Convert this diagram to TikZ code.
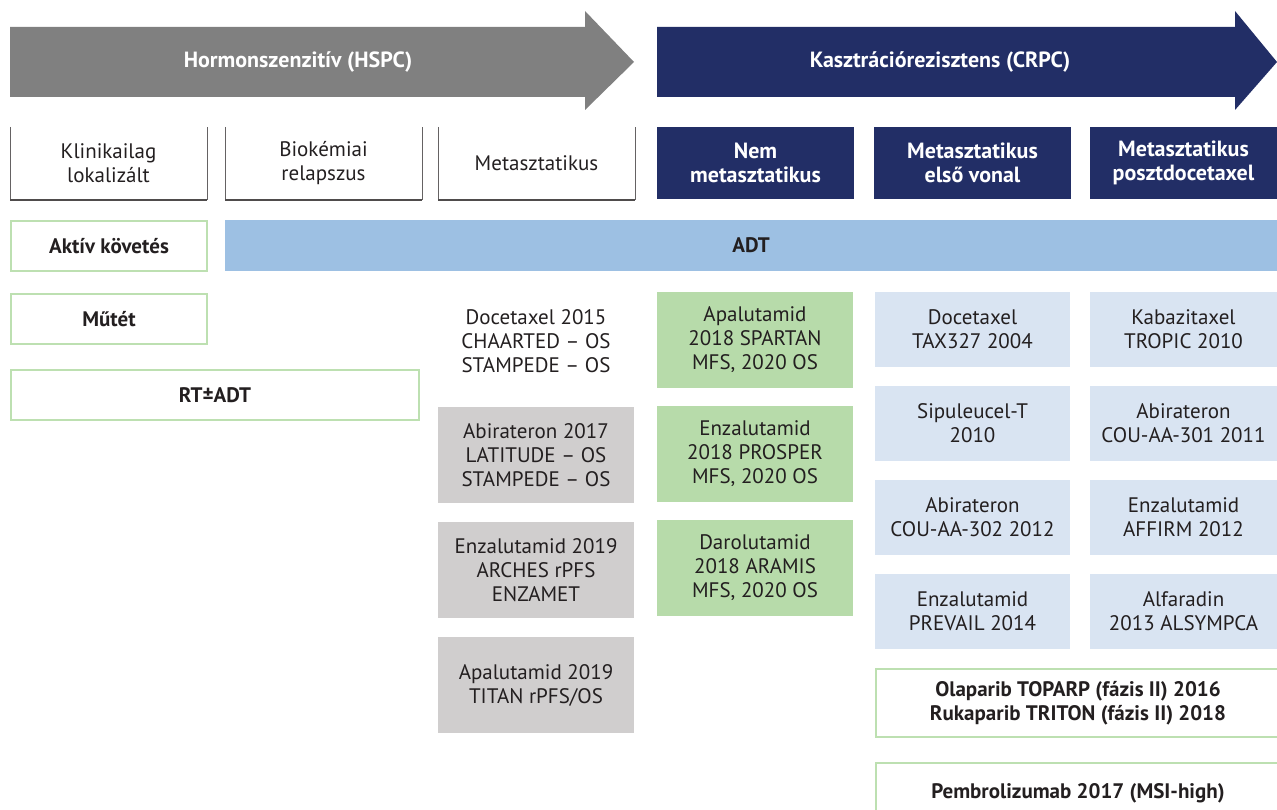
\documentclass[tikz,border=0pt]{standalone}
\usepackage{fontspec}
\setmainfont{PT Sans}
\usetikzlibrary{positioning}
\definecolor{hspcgrey}{HTML}{808080}
\definecolor{crpcnavy}{HTML}{222E66}
\definecolor{adtblue}{HTML}{9DC0E3}
\definecolor{paleblue}{HTML}{D9E4F2}
\definecolor{mfsgreen}{HTML}{B7DBAA}
\definecolor{framegreen}{HTML}{BDE0B1}
\definecolor{trialgrey}{HTML}{D0CECE}
\definecolor{inkgrey}{HTML}{231F20}

\begin{document}
\begin{tikzpicture}[x=1pt,y=-1pt,
            every node/.style={font=\fontsize{21}{24}\selectfont, align=center, inner sep=0pt, outer sep=0pt, anchor=north west, text=inkgrey},
            stagebox/.style={minimum width=197pt, minimum height=72pt},
            navybox/.style={stagebox, fill=crpcnavy, text=white, font=\bfseries\fontsize{22}{24}\selectfont},
            framebox/.style={draw=framegreen, line width=2pt, fill=white, minimum height=50pt, font=\bfseries\fontsize{21}{24}\selectfont},
            greybox/.style={fill=trialgrey, minimum width=196pt, minimum height=96pt},
            greenbox/.style={fill=mfsgreen, minimum width=196pt, minimum height=96pt},
            bluebox/.style={fill=paleblue, minimum width=195pt, minimum height=75pt},
            arrowtext/.style={anchor=center, text=white, font=\bfseries\fontsize{22}{24}\selectfont},
            node distance=19pt,
        ]
            \useasboundingbox (0,0) rectangle (1277,810);
            % Arrows
            \fill[hspcgrey] (10,27) -- (585,27) -- (585,11) -- (634,62) -- (585,110) -- (585,97) -- (10,97) -- cycle;
            \fill[crpcnavy] (657,27) -- (1235,27) -- (1235,11) -- (1277,62) -- (1235,110) -- (1235,97) -- (657,97) -- cycle;
            \node[arrowtext] (hspc) at (298,62) {Hormonszenzitív (HSPC)};
            \node[arrowtext] (crpc) at (940,62) {Kasztrációrezisztens (CRPC)};

            % Stages
            \node[stagebox] (klin) at (10,127) {Klinikailag\\lokalizált};
            \node[stagebox] (bioch) at (225,127) {Biokémiai\\relapszus};
            \node[stagebox] (meta) at (438,127) {Metasztatikus};
            \node[navybox] (nmcrpc) at (657,127) {Nem\\metasztatikus};
            \node[navybox] (mfirst) at (874,127) {Metasztatikus\\első vonal};
            \node[navybox, minimum width=187pt] (mpost) at (1090,127) {Metasztatikus\\posztdocetaxel};
            \foreach \s in {klin,bioch,meta}
                \draw[inkgrey!70, line width=0.8pt] (\s.north west) -- (\s.south west) -- (\s.south east) -- (\s.north east);
            \foreach \s in {klin,bioch,meta}
                \draw[inkgrey!80, line width=1.2pt] ([yshift=-1pt]\s.south west) -- ([yshift=-1pt]\s.south east);

            % ADT row
            \node[framebox, minimum width=196pt] (aktiv) at (11,221) {Aktív követés};
            \node[fill=adtblue, minimum width=1052pt, minimum height=51pt, font=\bfseries\fontsize{21}{24}\selectfont] (adt) at (225,220) {ADT};

            % Local treatment
            \node[framebox, minimum width=196pt] (mutet) at (11,294) {Műtét};
            \node[framebox, minimum width=408pt] (rtadt) at (11,370) {RT±ADT};

            % mHSPC
            \node[minimum width=196pt, minimum height=96pt] (doce15) at (438,293) {Docetaxel 2015\\CHAARTED – OS\\STAMPEDE – OS};
            \node[greybox] (abi17) at (438,407) {Abirateron 2017\\LATITUDE – OS\\STAMPEDE – OS};
            \node[greybox, below=of abi17] (enza19) {Enzalutamid 2019\\ARCHES rPFS\\ENZAMET};
            \node[greybox, below=of enza19] (apa19) {Apalutamid 2019\\TITAN rPFS/OS};

            % nmCRPC
            \node[greenbox] (spartan) at (657,292) {Apalutamid\\2018 SPARTAN\\MFS, 2020 OS};
            \node[greenbox, below=18pt of spartan] (prosper) {Enzalutamid\\2018 PROSPER\\MFS, 2020 OS};
            \node[greenbox, below=18pt of prosper] (aramis) {Darolutamid\\2018 ARAMIS\\MFS, 2020 OS};

            % mCRPC
            \node[bluebox] (tax327) at (875,292) {Docetaxel\\TAX327 2004};
            \node[bluebox, below=of tax327] (sipu) {Sipuleucel-T\\2010};
            \node[bluebox, below=of sipu] (cou302) {Abirateron\\COU-AA-302 2012};
            \node[bluebox, below=of cou302] (prevail) {Enzalutamid\\PREVAIL 2014};
            \node[bluebox, minimum width=187pt] (tropic) at (1090,292) {Kabazitaxel\\TROPIC 2010};
            \node[bluebox, minimum width=187pt, below=of tropic] (cou301) {Abirateron\\COU-AA-301 2011};
            \node[bluebox, minimum width=187pt, below=of cou301] (affirm) {Enzalutamid\\AFFIRM 2012};
            \node[bluebox, minimum width=187pt, below=of affirm] (alsympca) {Alfaradin\\2013 ALSYMPCA};
            \node[framebox, minimum width=404pt, minimum height=68pt] (parp) at (876,669) {Olaparib TOPARP (fázis II) 2016\\Rukaparib TRITON (fázis II) 2018};
            \node[framebox, minimum width=404pt, minimum height=60pt] (pembro) at (876,763) {Pembrolizumab 2017 (MSI-high)};
        \end{tikzpicture}
\end{document}
